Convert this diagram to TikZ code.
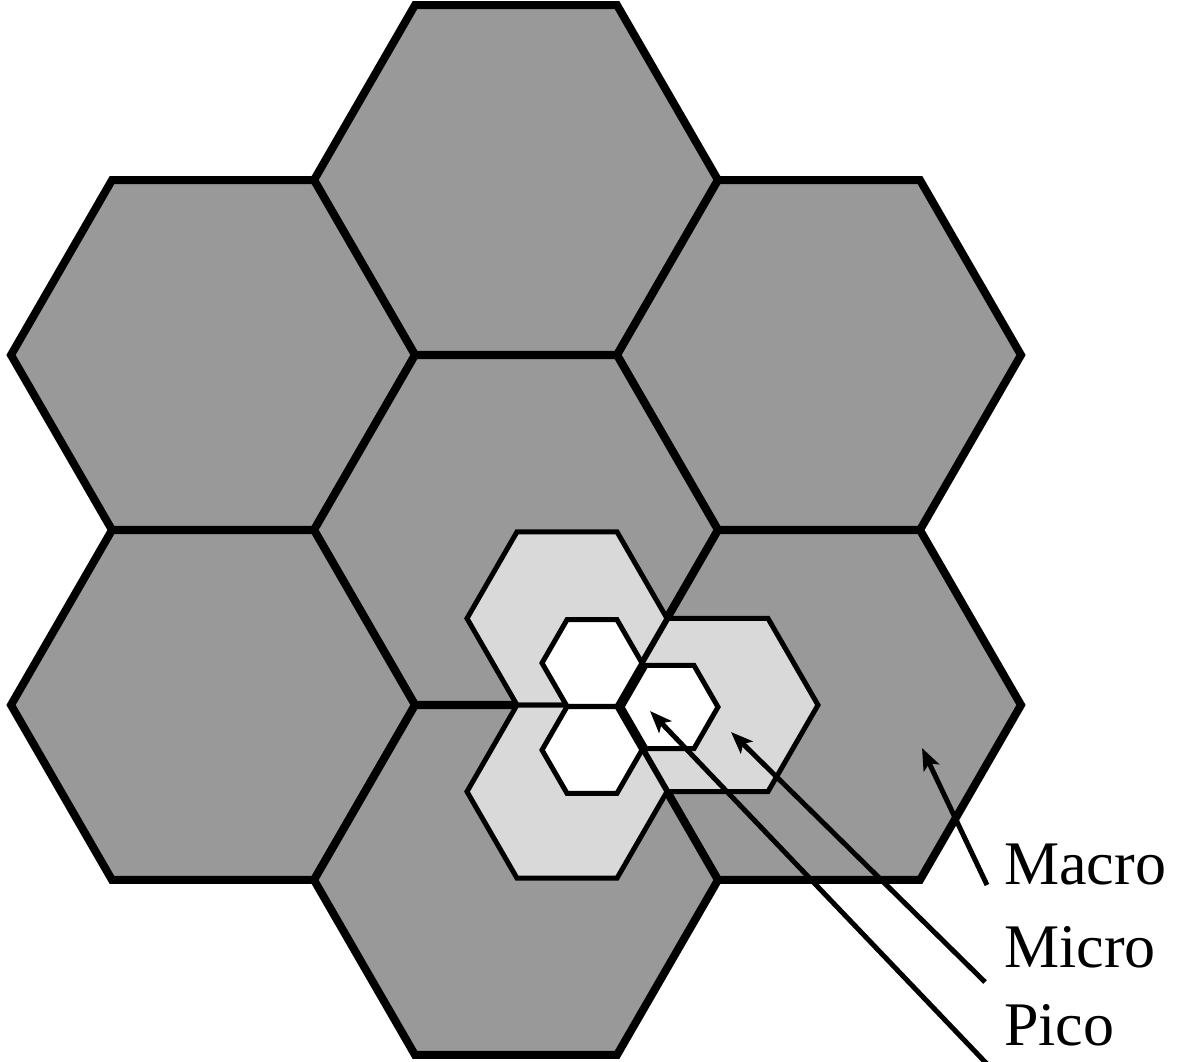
\documentclass[tikz,border=0pt]{standalone}
\usepackage{fontspec}
\setmainfont{Liberation Serif}
\usetikzlibrary{arrows.meta}
\definecolor{macrogray}{RGB}{153,153,153}
\definecolor{microgray}{RGB}{217,217,217}
\newcommand{\hexat}[4][]{\draw[#1] ({#2+#4},#3) -- ({#2+#4/2},{#3+0.8660254*#4}) -- ({#2-#4/2},{#3+0.8660254*#4}) -- ({#2-#4},#3) -- ({#2-#4/2},{#3-0.8660254*#4}) -- ({#2+#4/2},{#3-0.8660254*#4}) -- cycle;}
\begin{document}
\begin{tikzpicture}[x=1pt,y=-1pt,
  macrohex/.style={fill=macrogray,draw=black,line width=8pt},
  microhex/.style={fill=microgray,draw=black,line width=5pt},
  picohex/.style={fill=white,draw=black,line width=5pt},
  pointer/.style={draw=black,line width=5pt,-{Stealth[length=22pt,width=17pt,inset=5pt]}},
  lbl/.style={anchor=base west,inner sep=0pt,font=\fontsize{62}{72}\selectfont}]
\useasboundingbox (0,0) rectangle (1178,1061);
% macro cells
\hexat[macrohex]{516}{180}{202}
\hexat[macrohex]{213}{355}{202}
\hexat[macrohex]{819}{355}{202}
\hexat[macrohex]{516}{530}{202}
\hexat[macrohex]{213}{705}{202}
\hexat[macrohex]{819}{705}{202}
\hexat[macrohex]{516}{880}{202}
% micro cells
\hexat[microhex]{567}{618.4}{100}
\hexat[microhex]{718}{705}{100}
\hexat[microhex]{567}{791.6}{100}
% pico cells
\hexat[picohex]{592}{663}{50}
\hexat[picohex]{592}{750}{50}
\hexat[picohex]{670}{707}{48}
% labels
\node[lbl] (macro) at (1004,884) {Macro};
\node[lbl] (micro) at (1004,967) {Micro};
\node[lbl] (pico) at (1004,1045) {Pico};
\coordinate (macroS) at (987,885);
\coordinate (macroT) at (922,748);
\coordinate (microS) at (985,982);
\coordinate (microT) at (731,732);
\coordinate (picoS) at (987,1064);
\coordinate (picoT) at (650,711);
\draw[pointer] (macroS) -- (macroT);
\draw[pointer] (microS) -- (microT);
\draw[pointer] (picoS) -- (picoT);
\end{tikzpicture}
\end{document}
